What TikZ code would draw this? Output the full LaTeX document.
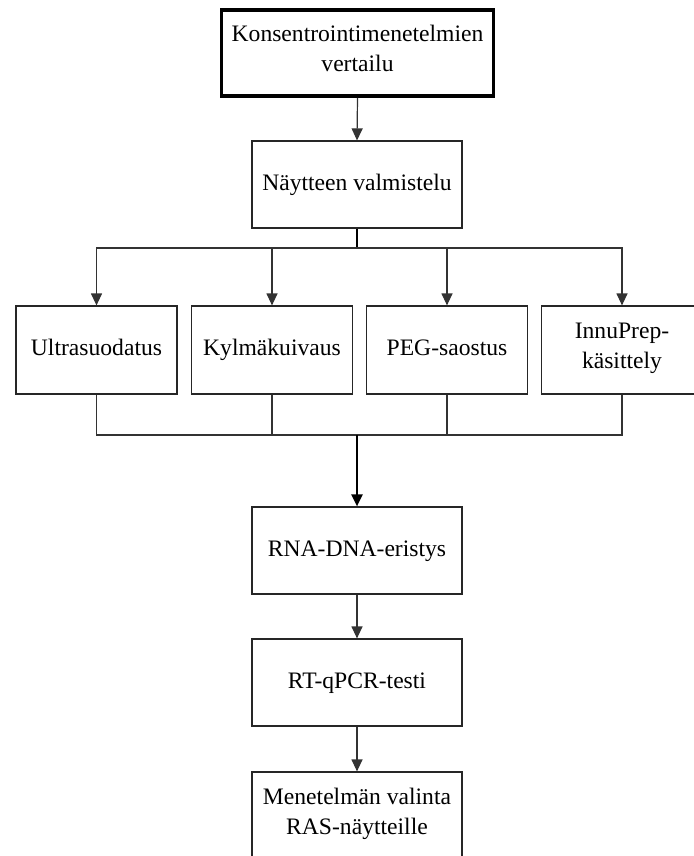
\documentclass[tikz,border=0pt]{standalone}
\usepackage{fontspec}
\setmainfont{Liberation Serif}
\usetikzlibrary{arrows.meta}
\begin{document}
\begin{tikzpicture}[x=0.5pt,y=-0.5pt,
  box/.style={draw=black!85,line width=0.6pt,fill=white,minimum width=105pt,minimum height=43.5pt,
    align=center,inner sep=1pt,font=\fontsize{11.8}{14.8}\selectfont,
    execute at begin node=\strut,execute at end node=\strut},
  mbox/.style={box,minimum width=80.5pt,minimum height=44pt},
  topbox/.style={box,line width=1.8pt,draw=black,minimum width=136pt,minimum height=43pt},
  conn/.style={draw=black!80,line width=0.6pt},
  bold/.style={draw=black,line width=1.1pt},
  arr/.style={conn,-{Triangle[width=5.5pt,length=6pt]}},
  barr/.style={bold,-{Triangle[width=5.5pt,length=6pt]}}]
\useasboundingbox (0,0) rectangle (693,856);
\node[topbox] (top) at (357.5,53) {Konsentrointimenetelmien\\vertailu};
\node[box] (prep) at (357,184.5) {Näytteen valmistelu};
\node[mbox] (m1) at (96.5,350) {Ultrasuodatus};
\node[mbox] (m2) at (272,350) {Kylmäkuivaus};
\node[mbox] (m3) at (447,350) {PEG-saostus};
\node[mbox] (m4) at (622,350) {InnuPrep-\\käsittely};
\node[box] (rna) at (357,550.5) {RNA-DNA-eristys};
\node[box] (rt) at (357,682.5) {RT-qPCR-testi};
\node[box] (sel) at (357,815.5) {Menetelmän valinta\\RAS-näytteille};
\coordinate (split) at (357,248);
\coordinate (join) at (357,435);
\draw[arr] (top.south) -- (prep.north);
\draw[bold] (prep.south) -- (split);
\foreach \m in {m1,m2,m3,m4} {
  \draw[arr] (split) -| (\m.north);
  \draw[conn] (\m.south) |- (join);
}
\draw[barr] (join) -- (rna.north);
\draw[arr] (rna.south) -- (rt.north);
\draw[arr] (rt.south) -- (sel.north);
\end{tikzpicture}
\end{document}
